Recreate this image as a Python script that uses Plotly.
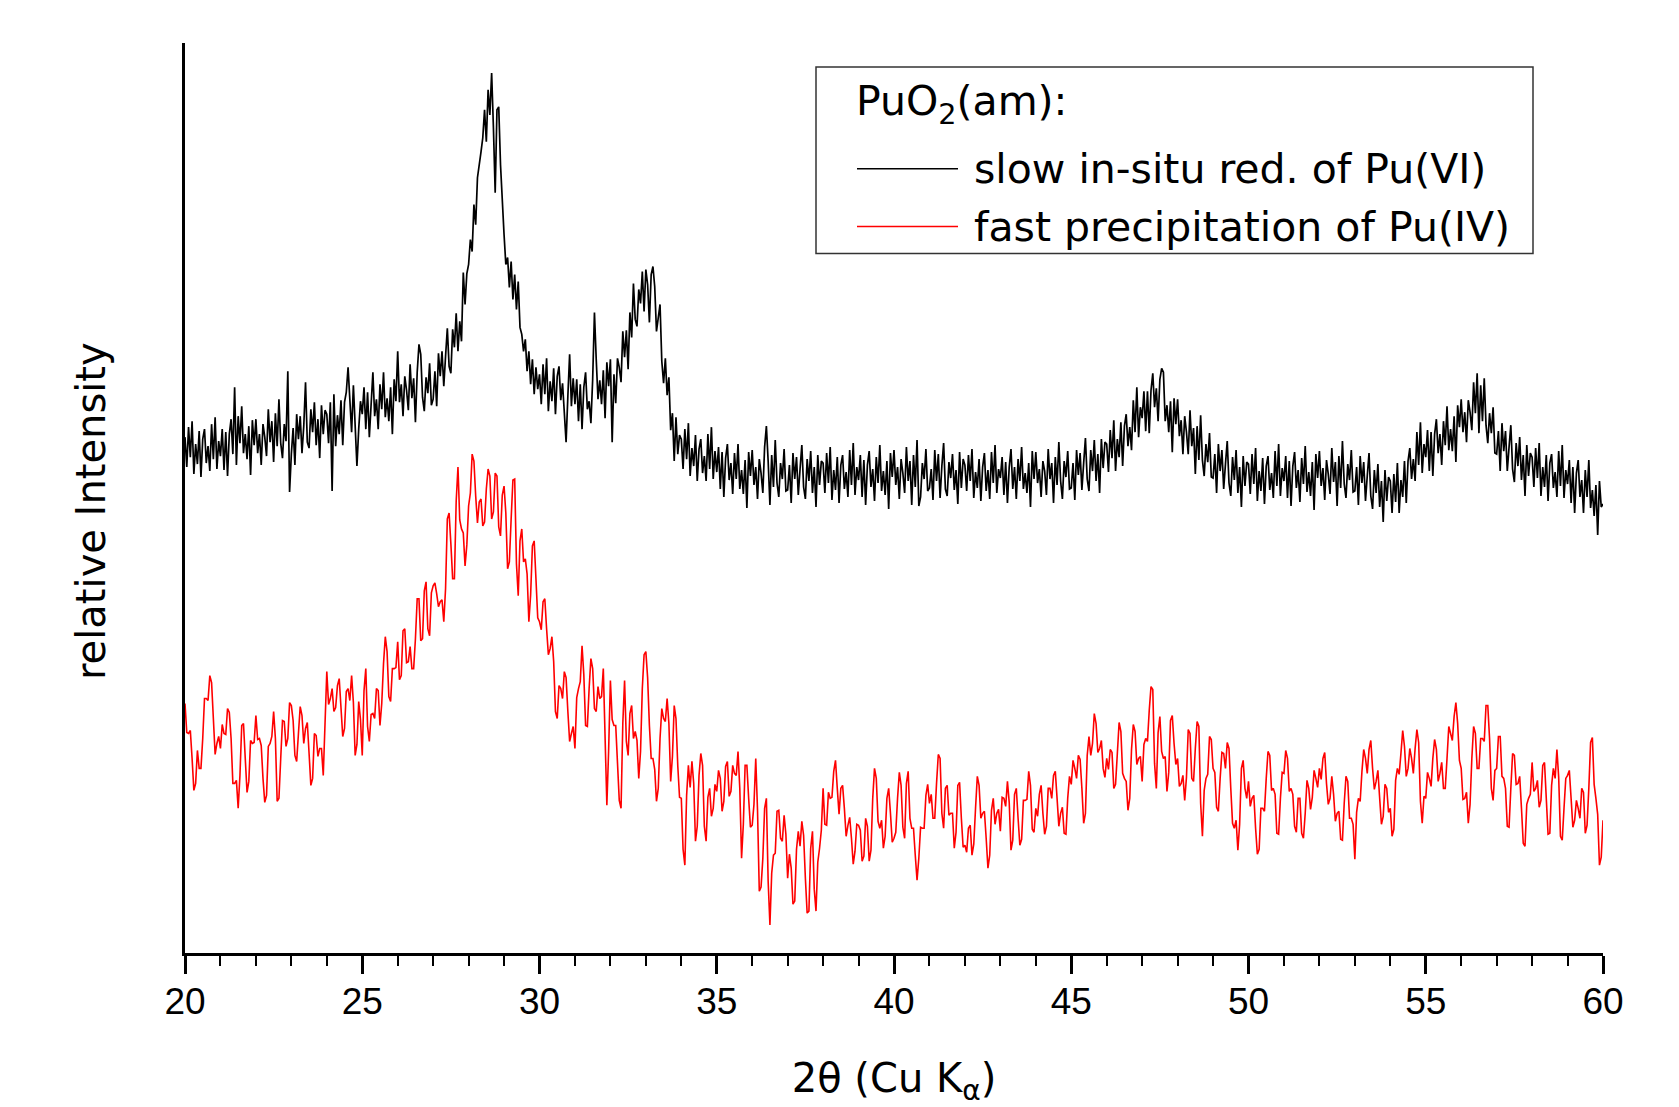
import plotly.graph_objects as go

# 2-theta scan grid (degrees)
THETA_START = 20.0
STEP_SLOW = 0.05
STEP_FAST = 0.05

# relative intensity, slow in-situ reduction of Pu(VI) (black), 20..60 deg, step 0.05
slow_insitu_red = [
    562,532,572,542,578,525,555,535,568,522,560,570,536,553,528,575,540,582,530,558,
    543,570,529,567,523,565,580,545,612,534,583,556,593,546,565,540,573,524,579,554,
    580,546,565,534,575,562,543,590,557,578,537,586,553,600,556,541,575,558,628,507,
    545,571,534,585,560,583,546,573,617,557,551,590,567,597,554,580,541,594,565,589,
    585,556,597,508,605,553,584,565,599,554,597,607,632,591,567,614,580,533,570,598,
    585,612,570,607,562,602,627,583,600,570,615,590,627,582,601,578,612,565,620,598,
    648,597,615,583,623,609,589,635,601,621,577,627,655,645,602,588,622,606,636,594,
    600,628,593,646,623,648,613,643,671,633,626,670,652,686,648,678,658,727,695,726,
    735,760,748,795,775,822,838,848,862,890,858,910,885,927,872,807,890,893,835,795,
    765,735,742,712,738,700,725,690,718,672,665,648,660,628,648,615,640,605,632,610,
    625,595,635,605,641,588,618,598,631,585,623,633,599,616,591,557,603,645,593,621,
    595,620,578,615,570,612,627,590,598,576,620,687,640,600,619,595,629,581,637,613,
    640,557,625,596,641,632,617,668,642,669,630,687,662,716,680,673,710,696,728,688,
    730,715,677,725,733,713,668,684,695,638,616,641,604,622,569,586,538,582,545,564,
    560,530,570,540,576,523,551,533,564,518,550,560,526,543,518,565,530,572,520,548,
    527,552,510,547,502,541,555,519,536,505,546,520,555,510,529,505,539,491,547,523,
    549,514,532,500,540,526,506,552,573,538,494,544,512,559,516,502,536,520,550,508,
    509,534,496,546,520,542,504,530,554,512,500,540,518,548,506,532,492,544,514,538,
    536,506,546,516,552,499,529,509,542,496,534,544,510,527,502,549,514,556,504,532,
    519,544,502,539,494,534,548,512,530,498,542,516,554,508,528,504,538,490,546,522,
    549,514,532,500,540,526,506,552,518,538,494,544,512,559,493,502,536,520,550,508,
    511,530,499,549,518,545,501,533,556,510,503,537,521,545,509,529,495,547,511,540,
    534,508,544,518,550,501,527,511,540,498,532,546,508,529,500,547,516,554,506,530,
    521,542,504,537,496,532,550,510,532,500,540,518,552,510,526,506,536,492,548,520,
    547,516,530,502,538,528,504,550,520,536,496,542,514,557,518,500,538,522,548,510,
    511,536,499,549,524,546,509,536,561,520,508,549,528,559,518,545,506,560,531,557,
    555,527,569,541,579,528,560,542,577,533,573,585,553,572,549,599,567,612,562,592,
    581,608,568,608,566,609,626,592,611,578,620,631,627,578,594,567,598,547,601,575,
    600,563,579,545,583,567,545,589,553,571,525,573,539,584,539,523,555,537,566,522,
    521,545,506,555,528,549,510,535,558,516,503,542,519,549,506,532,492,543,513,537,
    535,505,545,515,551,498,528,508,541,495,533,543,509,526,501,548,513,555,503,531,
    518,543,501,538,493,533,547,511,529,497,541,515,553,507,527,503,537,489,545,521,
    548,513,531,499,539,525,505,551,517,537,493,543,511,558,515,501,535,519,549,507,
    508,532,494,543,516,537,498,523,546,503,490,529,506,535,492,518,477,529,498,522,
    518,486,525,497,536,486,519,502,538,496,538,551,520,540,518,567,534,577,526,555,
    542,569,528,567,523,565,580,546,565,534,578,554,593,549,570,548,583,537,594,572,
    600,567,587,557,599,587,569,617,586,626,566,614,578,621,574,556,586,566,592,546,
    545,568,528,576,548,568,528,552,574,530,517,556,533,562,519,544,503,554,523,546,
    542,512,551,521,556,503,532,512,544,498,536,545,511,527,502,548,513,554,501,529,
    515,539,496,532,486,526,539,502,519,486,529,502,539,491,509,483,514,464,518,492,
    495,
]

# relative intensity, fast precipitation of Pu(IV) (red), 20..60 deg, step 0.05
fast_precip = [
    295,266,265,268,240,208,215,248,230,230,260,300,300,298,323,316,280,244,255,262,
    250,274,265,264,290,286,260,215,215,218,190,223,273,275,240,206,217,258,255,256,
    283,259,260,253,220,196,203,252,255,262,287,260,197,200,240,278,277,252,260,296,
    293,278,243,237,265,292,283,255,270,276,245,213,220,265,263,242,250,250,223,266,
    327,294,300,310,287,291,313,320,295,262,270,307,310,298,323,296,243,254,297,279,
    243,308,330,272,257,284,285,280,310,308,273,295,335,362,347,302,297,330,330,331,
    357,319,323,368,370,336,337,352,330,330,360,400,400,358,360,408,417,370,363,406,
    413,416,405,392,397,399,377,410,480,486,455,420,420,498,532,479,470,466,433,454,
    493,506,545,538,503,476,497,500,473,477,510,530,523,480,487,526,523,472,463,504,
    513,486,430,437,480,519,520,435,403,458,470,437,440,425,377,404,453,458,420,381,
    377,369,397,400,370,344,350,362,337,287,280,313,310,300,327,321,287,257,265,272,
    250,301,310,317,353,324,273,272,310,340,330,290,287,312,300,302,330,273,193,248,
    318,279,273,273,240,198,190,275,318,257,243,285,293,260,267,258,220,247,310,344,
    347,321,273,240,240,229,197,210,260,290,280,277,300,275,217,242,293,280,233,201,
    200,149,133,203,233,211,237,215,157,172,223,245,233,172,157,201,210,182,190,214,
    207,228,220,187,197,232,237,202,207,233,225,223,247,210,140,174,233,233,200,171,
    173,194,240,188,107,111,140,190,200,117,73,125,143,145,187,188,160,157,183,164,
    120,144,130,94,97,149,167,152,177,163,120,85,87,150,167,109,87,136,150,168,
    210,174,173,206,200,201,227,238,210,184,210,213,190,162,173,181,160,134,147,174,
    173,168,137,142,180,172,137,148,200,230,220,177,170,178,150,162,200,210,185,156,
    160,166,200,226,213,171,160,215,227,180,170,170,143,118,140,171,170,170,203,214,
    195,204,180,180,215,244,240,185,170,210,213,183,185,185,150,166,213,216,180,151,
    153,146,170,173,143,154,190,222,213,180,185,187,160,130,143,188,200,174,185,189,
    167,201,200,192,217,196,148,158,204,210,180,153,159,198,198,199,227,213,169,166,
    190,182,204,213,185,164,172,210,210,200,223,227,200,172,185,191,165,164,200,222,
    214,238,230,220,243,239,210,175,185,243,262,243,255,285,275,246,250,258,230,221,
    240,229,249,246,210,214,245,276,267,225,220,217,188,200,249,274,267,234,240,242,
    217,254,260,257,288,312,309,235,210,266,282,247,240,242,207,226,278,283,255,234,
    240,212,215,223,198,221,269,265,220,217,250,277,272,195,162,208,220,224,262,259,
    230,226,191,187,220,246,245,230,256,250,210,175,170,178,148,174,230,238,210,200,
    217,192,200,203,170,144,149,190,190,187,220,247,243,208,210,204,165,164,200,226,
    225,248,240,207,210,204,172,166,200,200,165,160,185,218,210,189,201,228,220,211,
    230,219,240,246,215,194,200,222,204,177,185,187,159,158,195,222,217,180,180,174,
    139,186,200,197,227,249,240,225,249,258,230,209,217,228,200,174,182,214,210,186,
    190,162,169,218,230,224,245,268,252,222,230,250,240,225,250,269,256,197,175,202,
    200,226,220,212,240,259,249,217,225,236,210,210,240,272,265,258,282,296,275,238,
    230,199,200,206,175,194,240,272,265,230,230,260,260,257,293,293,260,210,198,228,
    230,262,262,222,220,210,172,171,210,245,243,214,215,222,190,155,152,194,200,204,
    236,207,210,218,191,198,233,236,200,164,165,213,230,220,249,221,162,158,190,220,
    223,228,200,171,178,198,190,180,210,206,165,173,210,256,261,214,200,184,133,141,
    178,
]

X_TICKS = [20, 25, 30, 35, 40, 45, 50, 55, 60]
X_RANGE = [20, 60]
Y_RANGE = [45, 957]

X_TITLE = "2θ (Cu K<sub>α</sub>)"
Y_TITLE = "relative Intensity"
LEGEND_TITLE = "PuO<sub>2</sub>(am):"
NAME_SLOW = "slow in-situ red. of Pu(VI)"
NAME_FAST = "fast precipitation of Pu(IV)"

PAGE_OFFSET = 8  # default body margin of the html page
W, H = 1679 - PAGE_OFFSET, 1107 - PAGE_OFFSET
ML, MR, MT, MB = 177, 76, 35, 152
PW, PH = W - ML - MR, H - MT - MB


def px(xp):
    """page pixel x -> paper coordinate"""
    return (xp - PAGE_OFFSET - ML) / PW


def py(yp):
    """page pixel y -> paper coordinate"""
    return (H - MB - (yp - PAGE_OFFSET)) / PH


fig = go.Figure()
fig.add_trace(go.Scatter(y=slow_insitu_red, x0=THETA_START, dx=STEP_SLOW, mode="lines",
                         line=dict(color="#000000", width=1.7), name=NAME_SLOW, showlegend=False))
fig.add_trace(go.Scatter(y=fast_precip, x0=THETA_START, dx=STEP_FAST, mode="lines",
                         line=dict(color="#ff0000", width=1.6), name=NAME_FAST, showlegend=False))

TICKFONT = dict(family="Liberation Sans, Arial, sans-serif", size=37, color="black")
TITLEFONT = dict(family="DejaVu Sans, sans-serif", size=40, color="black")
LEGFONT = dict(family="DejaVu Sans, sans-serif", size=41, color="black")

fig.update_layout(
    width=W, height=H,
    margin=dict(l=ML, r=MR, t=MT, b=MB),
    paper_bgcolor="white", plot_bgcolor="white",
    showlegend=False,
    xaxis=dict(range=X_RANGE, tickvals=X_TICKS, ticks="outside", ticklen=18, tickwidth=2.5,
               tickcolor="black", showline=True, linewidth=2.5, linecolor="black",
               showgrid=False, zeroline=False, tickfont=TICKFONT, ticklabelstandoff=-4,
               minor=dict(ticks="outside", ticklen=10, tickwidth=2, tickcolor="black", dtick=1, showgrid=False),
               title=dict(text=X_TITLE, font=TITLEFONT, standoff=45)),
    yaxis=dict(range=Y_RANGE, showticklabels=False, ticks="", showline=True, linewidth=2.5,
               linecolor="black", showgrid=False, zeroline=False),
)

# y-axis title placed as in the original (slightly below the axis centre)
fig.add_annotation(xref="paper", yref="paper", x=px(91), y=py(512), text=Y_TITLE, textangle=-90,
                   showarrow=False, xanchor="center", yanchor="middle", font=TITLEFONT)

# legend box drawn manually to reproduce the original layout
fig.add_shape(type="rect", xref="paper", yref="paper", x0=px(816), x1=px(1533), y0=py(254), y1=py(67),
              line=dict(color="#333333", width=1.5), fillcolor="white", layer="above")
fig.add_shape(type="line", xref="paper", yref="paper", x0=px(857), x1=px(958), y0=py(169), y1=py(169),
              line=dict(color="#000000", width=1.5))
fig.add_shape(type="line", xref="paper", yref="paper", x0=px(857), x1=px(958), y0=py(227), y1=py(227),
              line=dict(color="#ff0000", width=1.5))
fig.add_annotation(xref="paper", yref="paper", x=px(854), y=py(104), text=LEGEND_TITLE, showarrow=False,
                   xanchor="left", yanchor="middle", font=LEGFONT)
fig.add_annotation(xref="paper", yref="paper", x=px(972), y=py(169), text=NAME_SLOW, showarrow=False,
                   xanchor="left", yanchor="middle", font=LEGFONT)
fig.add_annotation(xref="paper", yref="paper", x=px(972), y=py(227), text=NAME_FAST, showarrow=False,
                   xanchor="left", yanchor="middle", font=LEGFONT)

fig.write_html("out.html")
